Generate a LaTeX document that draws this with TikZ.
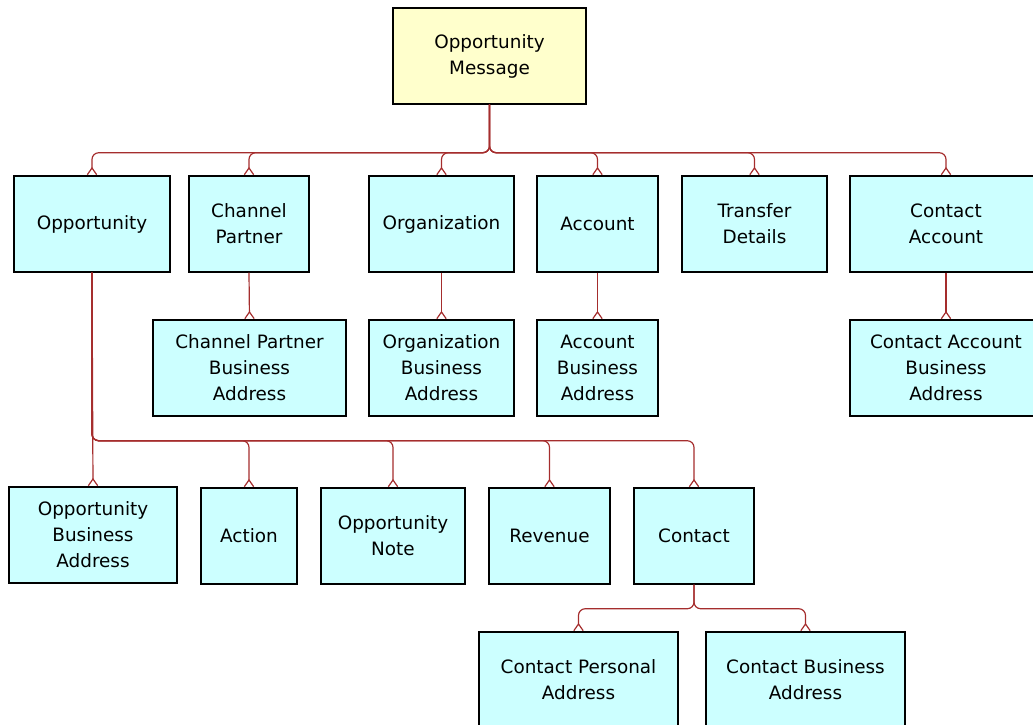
\documentclass[tikz,border=0pt]{standalone}
\usepackage{fontspec}
\setmainfont{DejaVu Sans}
\usetikzlibrary{arrows.meta}

\definecolor{linkred}{RGB}{165,45,45}
\definecolor{boxcyan}{RGB}{204,255,255}
\definecolor{boxyellow}{RGB}{255,255,204}

\begin{document}
\begin{tikzpicture}[x=0.75pt,y=0.75pt,yscale=-1,xscale=1,
    entity/.style={draw=black,line width=1.1pt,fill=boxcyan,rectangle,
      minimum height=72pt,inner sep=0pt,align=center,
      font=\fontsize{13.8}{19.5}\selectfont},
    root/.style={entity,fill=boxyellow},
    link/.style={draw=linkred,line width=0.9pt,rounded corners=5pt,
      -{Straight Barb[reversed,length=5pt,width=7pt]}}]
    	%fix the page at the size of the reference
    	\useasboundingbox (0,0) rectangle (1033,725);
    	
    	% top message box
    	\node (msg) at (489.5,56) [root,minimum width=145pt] {Opportunity\\Message};
    	
    	% first row
    	\node (opp) at (92,224) [entity,minimum width=117pt] {Opportunity};
    	\node (chan) at (249,224) [entity,minimum width=90pt] {Channel\\Partner};
    	\node (org) at (441.5,224) [entity,minimum width=109pt] {Organization};
    	\node (acc) at (597.5,224) [entity,minimum width=91pt] {Account};
    	\node (trans) at (754.5,224) [entity,minimum width=109pt] {Transfer\\Details};
    	\node (cacc) at (946,224) [entity,minimum width=144pt] {Contact\\Account};
    	
    	% second row
    	\node (chanaddr) at (249.5,368) [entity,minimum width=145pt] {Channel Partner\\Business\\Address};
    	\node (orgaddr) at (441.5,368) [entity,minimum width=109pt] {Organization\\Business\\Address};
    	\node (accaddr) at (597.5,368) [entity,minimum width=91pt] {Account\\Business\\Address};
    	\node (caccaddr) at (946,368) [entity,minimum width=144pt] {Contact Account\\Business\\Address};
    	
    	% third row
    	\node (oppaddr) at (93,535) [entity,minimum width=126pt] {Opportunity\\Business\\Address};
    	\node (action) at (249,536) [entity,minimum width=72pt] {Action};
    	\node (note) at (393,536) [entity,minimum width=108pt] {Opportunity\\Note};
    	\node (rev) at (549.5,536) [entity,minimum width=91pt] {Revenue};
    	\node (contact) at (694,536) [entity,minimum width=90pt] {Contact};
    	
    	% fourth row
    	\node (cpers) at (578.5,680) [entity,minimum width=149pt] {Contact Personal\\Address};
    	\node (cbus) at (805.5,680) [entity,minimum width=149pt] {Contact Business\\Address};
    	
    	% links from the message
    	\foreach \child in {opp,chan,org,acc,trans,cacc}
    	  \draw [link] (msg.south) -- ++(0,48) -| (\child.north);
    	
    	% straight links
    	\draw [link] (chan.south) -- (chanaddr.north);
    	\draw [link] (org.south) -- (orgaddr.north);
    	\draw [link] (acc.south) -- (accaddr.north);
    	\draw [link] (cacc.south) -- (caccaddr.north);
    	\draw [link] (opp.south) -- (oppaddr.north);
    	
    	% links below the opportunity
    	\foreach \child in {action,note,rev,contact}
    	  \draw [link] (opp.south) -- ++(0,168) -| (\child.north);
    	
    	% links below the contact
    	\foreach \child in {cpers,cbus}
    	  \draw [link] (contact.south) -- ++(0,24) -| (\child.north);
    	
    \end{tikzpicture}
\end{document}
